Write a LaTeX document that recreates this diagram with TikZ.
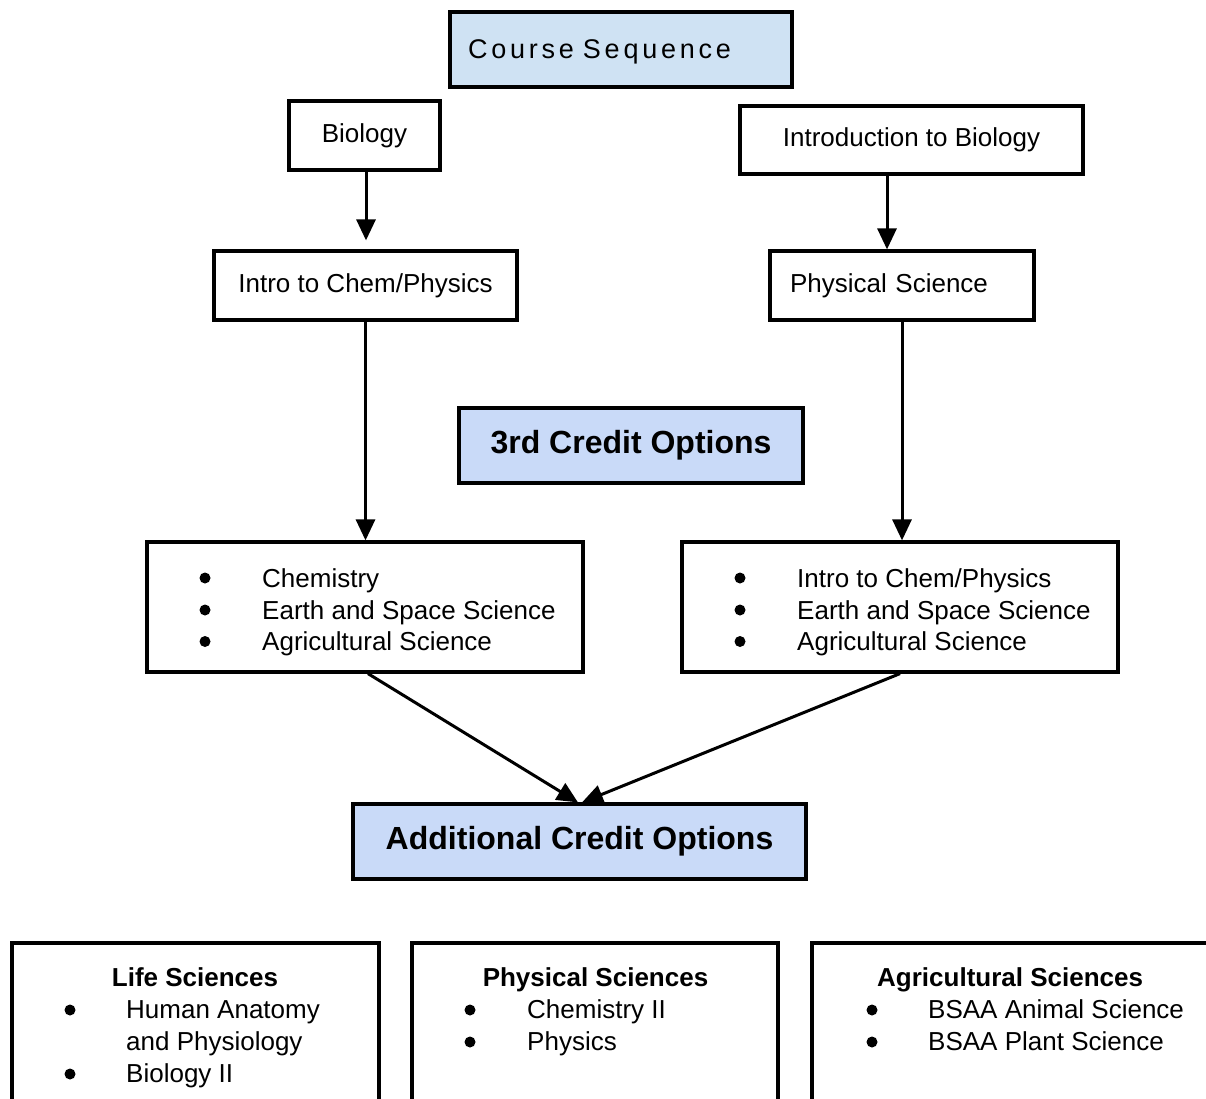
\documentclass[tikz,border=0pt]{standalone}
\usepackage{fontspec}
\setmainfont{Liberation Sans}
\newfontfamily\handfont[LetterSpace=14]{Liberation Sans}
\usetikzlibrary{arrows.meta}
\definecolor{hdrA}{HTML}{CFE2F3}
\definecolor{hdrB}{HTML}{C9DAF8}
\begin{document}
\begin{tikzpicture}[x=1pt,y=-1pt,
  box/.style={draw, line width=3.2pt, rectangle, inner sep=0pt, font=\fontsize{26}{30}\selectfont},
  hdr/.style={box, fill=hdrB, font=\bfseries\fontsize{32}{38}\selectfont},
  txt/.style={inner sep=0pt, anchor=base west, font=\fontsize{26}{30}\selectfont},
  htxt/.style={inner sep=0pt, anchor=base, font=\bfseries\fontsize{26}{30}\selectfont},
  bul/.style={circle, fill=black, inner sep=0pt, minimum size=11pt},
  arr/.style={line width=3pt, -{Triangle[length=21pt,width=19pt]}}]
\useasboundingbox (0,0) rectangle (1206,1099);
\fill[white] (0,0) rectangle (1206,1099);
\clip (0,0) rectangle (1206,1099);

% top
\node[box, fill=hdrA, minimum width=342pt, minimum height=75pt, inner xsep=18pt,
      text width=306pt, align=left, font=\handfont\fontsize{27}{30}\selectfont]
  (cs) at (621,49.5) {\smash{\raisebox{-9pt}{Course Sequence}}};
\node[box, minimum width=151pt, minimum height=69pt] (bio) at (364.5,135.5) {Biology};
\node[box, minimum width=343pt, minimum height=68pt] (ib) at (911.5,140) {Introduction to Biology};
\node[box, minimum width=303pt, minimum height=69pt] (icp) at (365.5,285.5) {Intro to Chem/Physics};
\node[box, minimum width=264pt, minimum height=69pt, inner xsep=20pt, text width=224pt, align=left]
  (ps) at (902,285.5) {Physical Science};
\node[hdr, minimum width=344pt, minimum height=75pt] (third) at (631,445.5) {3rd Credit Options};

% third credit lists
\node[box, minimum width=436pt, minimum height=130pt] (ll) at (365,607) {};
\node[box, minimum width=436pt, minimum height=130pt] (rl) at (900,607) {};
\node[bul] (llb1) at (205,578) {};
\node[bul] (llb2) at (205,610) {};
\node[bul] (llb3) at (205,641.5) {};
\node[txt] (llt1) at (262,587) {Chemistry};
\node[txt] (llt2) at (262,619) {Earth and Space Science};
\node[txt] (llt3) at (262,650.5) {Agricultural Science};
\node[bul] (rlb1) at (740,578) {};
\node[bul] (rlb2) at (740,610) {};
\node[bul] (rlb3) at (740,641.5) {};
\node[txt] (rlt1) at (797,587) {Intro to Chem/Physics};
\node[txt] (rlt2) at (797,619) {Earth and Space Science};
\node[txt] (rlt3) at (797,650.5) {Agricultural Science};

\node[hdr, minimum width=453pt, minimum height=75pt] (acd) at (579.5,841.5) {Additional Credit Options};

% bottom boxes
\node[box, minimum width=367pt, minimum height=207pt] (ls) at (195.5,1046.5) {};
\node[box, minimum width=366pt, minimum height=207pt] (pss) at (595,1046.5) {};
\node[box, minimum width=418pt, minimum height=207pt] (ags) at (1021,1046.5) {};

\node[htxt] (lsh) at (195,986) {Life Sciences};
\node[bul] (lsb1) at (70,1010) {};
\node[txt] (lst1) at (126,1018) {Human Anatomy};
\node[txt] (lst2) at (126,1050) {and Physiology};
\node[bul] (lsb2) at (70,1074) {};
\node[txt] (lst3) at (126,1082) {Biology II};

\node[htxt] (psh) at (595.5,986) {Physical Sciences};
\node[bul] (psb1) at (470,1010) {};
\node[txt] (pst1) at (527,1018) {Chemistry II};
\node[bul] (psb2) at (470,1042) {};
\node[txt] (pst2) at (527,1050) {Physics};

\node[htxt, anchor=base west] (agh) at (877,986) {Agricultural Sciences};
\node[bul] (agb1) at (872,1010) {};
\node[txt] (agt1) at (928,1018) {BSAA Animal Science};
\node[bul] (agb2) at (872,1042) {};
\node[txt] (agt2) at (928,1050) {BSAA Plant Science};

% arrows
\draw[arr, shorten >=9pt] ([xshift=1.5pt]bio.south) -- ([xshift=1.5pt]bio.south |- icp.north);
\draw[arr] ([xshift=-24.5pt]ib.south) -- ([xshift=-24.5pt]ib.south |- ps.north);
\draw[arr] (icp.south) -- (icp.south |- ll.north);
\draw[arr] (ps.south) -- (ps.south |- rl.north);
\draw[arr] ([xshift=3pt]ll.south) -- ([xshift=-1.5pt]acd.north);
\draw[arr] (rl.south) -- ([xshift=2.5pt]acd.north);
\end{tikzpicture}
\end{document}
